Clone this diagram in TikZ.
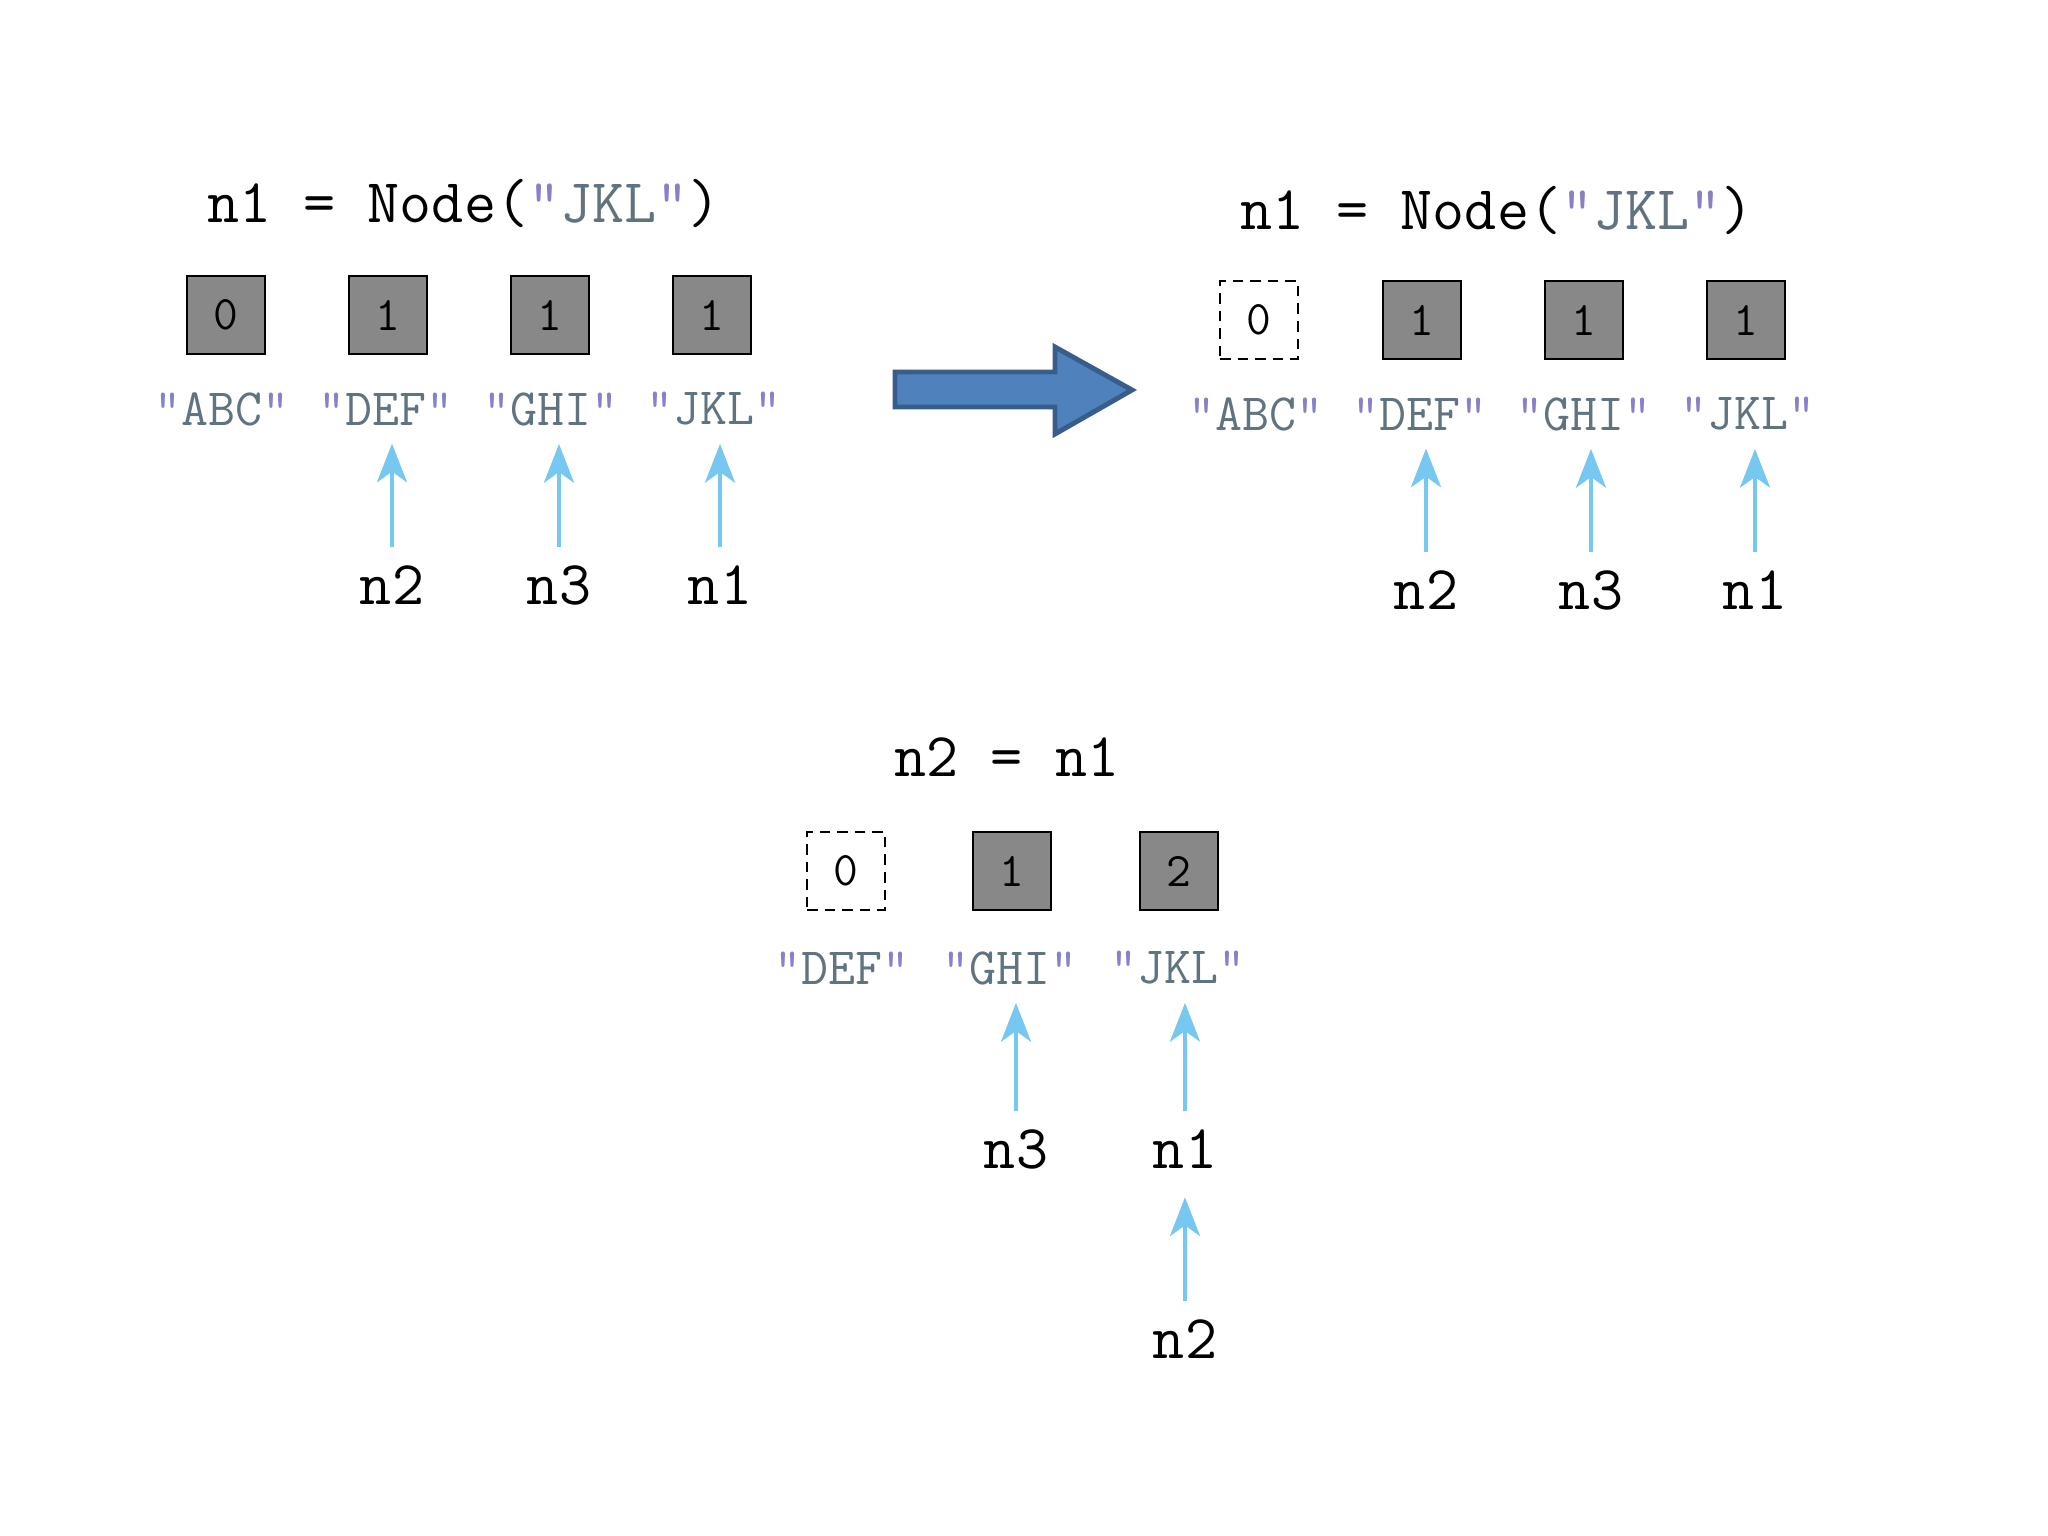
\documentclass[tikz,border=0pt]{standalone}
\usepackage{fontspec}
\usepackage{xcolor}
\definecolor{rcgray}{RGB}{136,136,136}
\definecolor{rcslate}{RGB}{95,115,128}
\definecolor{rcquote}{RGB}{135,130,200}
\definecolor{rcsky}{RGB}{118,200,240}
\definecolor{rcblue}{RGB}{79,129,189}
\definecolor{rcbluedark}{RGB}{56,93,138}
\usepackage{tikz}
\usetikzlibrary{arrows.meta, positioning}

\newcommand{\strlit}[1]{{\color{rcquote}"}{\color{rcslate}#1}{\color{rcquote}"}}

\tikzset{
  cntbox/.style={draw=black, line width=0.7pt, fill=rcgray, minimum size=0.78cm,
    inner sep=0pt, font=\ttfamily\fontsize{13.7}{16}\selectfont},
  freedbox/.style={cntbox, fill=white, dash pattern=on 3pt off 2pt},
  strlabel/.style={inner sep=0pt, font=\ttfamily\fontsize{14.9}{17}\selectfont},
  varname/.style={inner sep=0pt, font=\ttfamily\fontsize{17.7}{20}\selectfont},
  codeline/.style={varname, anchor=base},
  refarrow/.style={-{Stealth[length=11pt, width=8.5pt, inset=3pt]}, rcsky,
    line width=1.4pt, shorten <=5pt, shorten >=5pt}
}

\begin{document}
\begin{tikzpicture}[x=0.01cm, y=-0.01cm]
  \useasboundingbox (0,0) rectangle (2048,1536);

  % --- Panel 1: before the assignment ---
  \node[codeline] (t1) at (464,222) {n1 = Node(\strlit{JKL})};
  \node[cntbox] (a0) at (226,315) {0};
  \node[cntbox] (a1) at (388,315) {1};
  \node[cntbox] (a2) at (550,315) {1};
  \node[cntbox] (a3) at (712,315) {1};
  \node[strlabel] (sa0) at (222,409) {\strlit{ABC}};
  \node[strlabel] (sa1) at (386,409) {\strlit{DEF}};
  \node[strlabel] (sa2) at (551,409) {\strlit{GHI}};
  \node[strlabel] (sa3) at (714,409) {\strlit{JKL}};
  \node[varname] (va1) at (392,585) {n2};
  \node[varname] (va2) at (559,585) {n3};
  \node[varname] (va3) at (720,585) {n1};
  \draw[refarrow] (va1.north) -- (va1.north |- sa1.south);
  \draw[refarrow] (va2.north) -- (va2.north |- sa2.south);
  \draw[refarrow] (va3.north) -- (va3.north |- sa3.south);

  % Big arrow between the panels
  \draw[fill=rcblue, draw=rcbluedark, line width=1.4pt]
    (895,372) -- (1055,372) -- (1055,347) -- (1132,390)
    -- (1055,434) -- (1055,407) -- (895,407) -- cycle;

  % --- Panel 2: "ABC" freed ---
  \node[codeline] (t2) at (1497,229) {n1 = Node(\strlit{JKL})};
  \node[freedbox] (b0) at (1259,320) {0};
  \node[cntbox] (b1) at (1422,320) {1};
  \node[cntbox] (b2) at (1584,320) {1};
  \node[cntbox] (b3) at (1746,320) {1};
  \node[strlabel] (sb0) at (1256,414) {\strlit{ABC}};
  \node[strlabel] (sb1) at (1420,414) {\strlit{DEF}};
  \node[strlabel] (sb2) at (1584,414) {\strlit{GHI}};
  \node[strlabel] (sb3) at (1748,414) {\strlit{JKL}};
  \node[varname] (vb1) at (1426,590) {n2};
  \node[varname] (vb2) at (1591,590) {n3};
  \node[varname] (vb3) at (1755,590) {n1};
  \draw[refarrow] (vb1.north) -- (vb1.north |- sb1.south);
  \draw[refarrow] (vb2.north) -- (vb2.north |- sb2.south);
  \draw[refarrow] (vb3.north) -- (vb3.north |- sb3.south);

  % --- Panel 3: n2 = n1 ---
  \node[codeline] (t3) at (1007,776) {n2 = n1};
  \node[freedbox] (c0) at (846,871) {0};
  \node[cntbox] (c1) at (1012,871) {1};
  \node[cntbox] (c2) at (1179,871) {2};
  \node[strlabel] (sc0) at (842,968) {\strlit{DEF}};
  \node[strlabel] (sc1) at (1010,968) {\strlit{GHI}};
  \node[strlabel] (sc2) at (1178,968) {\strlit{JKL}};
  \node[varname] (vc1) at (1016,1149) {n3};
  \node[varname] (vc2) at (1185,1149) {n1};
  \node[varname] (vc3) at (1185,1339) {n2};
  \draw[refarrow] (vc1.north) -- (vc1.north |- sc1.south);
  \draw[refarrow] (vc2.north) -- (vc2.north |- sc2.south);
  \draw[refarrow, shorten >=8pt] (vc3.north) -- (vc2.south);
\end{tikzpicture}
\end{document}
